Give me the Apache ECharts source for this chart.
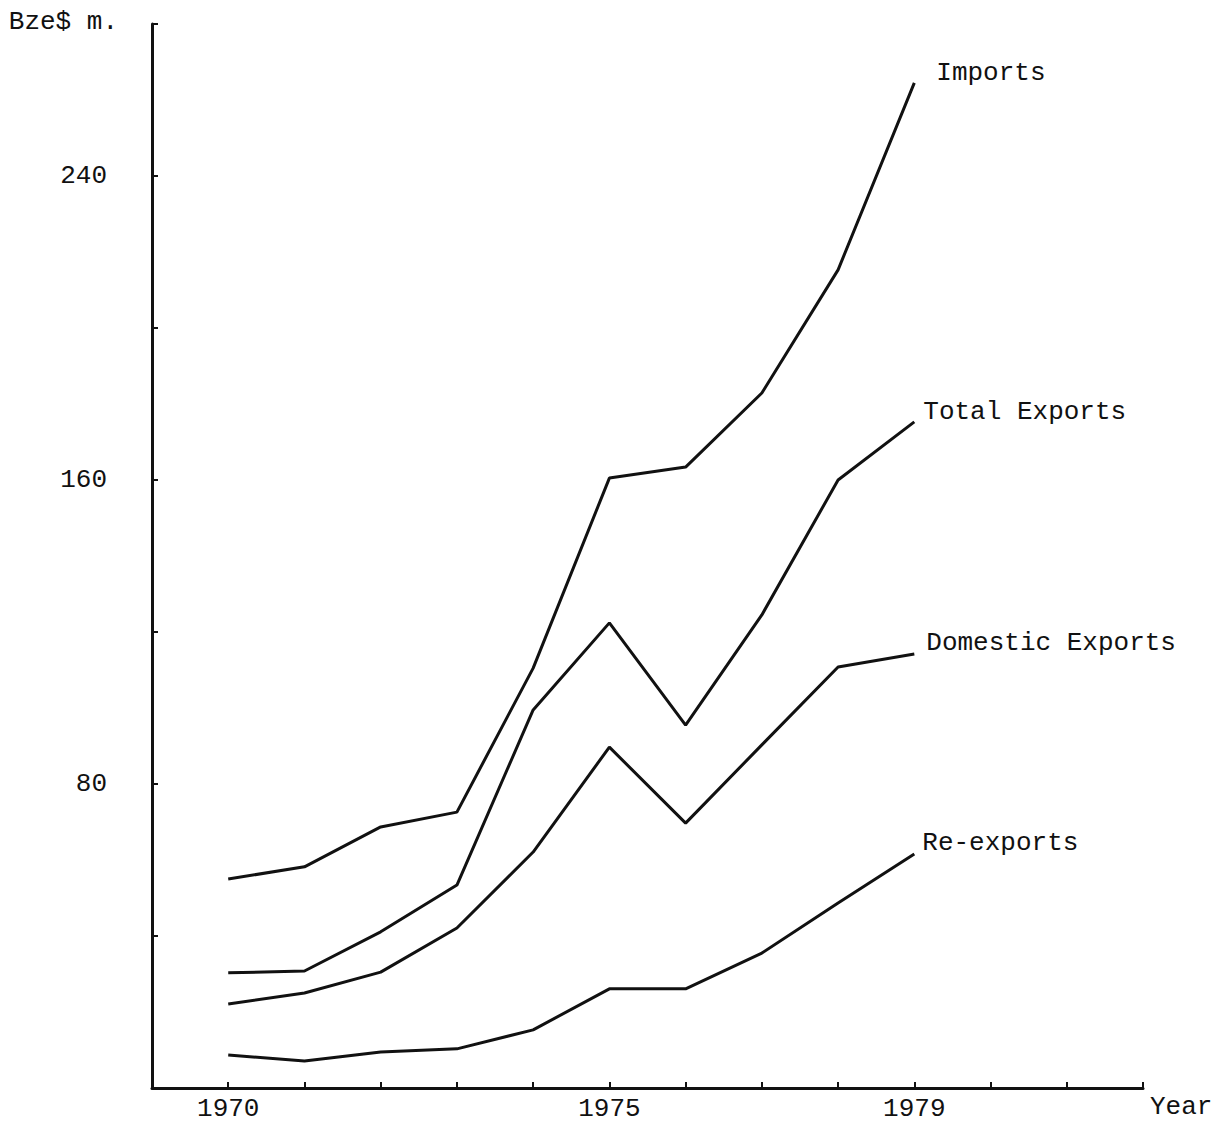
<!DOCTYPE html>
<html>
<head>
<meta charset="utf-8">
<script src="https://cdn.jsdelivr.net/npm/echarts@6/dist/echarts.min.js"></script>
<style>
  html, body { margin: 0; padding: 0; background: #ffffff; }
  #chart { width: 1226px; height: 1125px; }
</style>
</head>
<body>
<div id="chart"></div>
<script>
const years = [1970, 1971, 1972, 1973, 1974, 1975, 1976, 1977, 1978, 1979];
const imports = [55.0, 58.2, 68.7, 72.6, 110.5, 160.5, 163.4, 182.9, 215.3, 264.5];
const totalExports = [30.3, 30.8, 41.1, 53.4, 99.5, 122.4, 95.5, 124.5, 160.0, 175.3];
const domesticExports = [22.1, 25.0, 30.5, 42.1, 62.1, 89.7, 69.7, 90.3, 110.8, 114.2];
const reExports = [8.7, 7.1, 9.5, 10.3, 15.3, 26.1, 26.1, 35.5, 48.7, 61.6];
const seriesNames = ['Imports', 'Total Exports', 'Domestic Exports', 'Re-exports'];
const xTickLabels = [1970, 1975, 1979];
const yTickLabels = [80, 160, 240];

const FONT = '"Liberation Mono", "DejaVu Sans Mono", monospace';
const pairs = arr => years.map((y, i) => [y, arr[i]]);
const labelOffsets = [[14, -10], [1, -10], [4, -11], [0, -11]];
const allData = [imports, totalExports, domesticExports, reExports];

const chart = echarts.init(document.getElementById('chart'), null, { renderer: 'svg' });
chart.setOption({
  backgroundColor: '#ffffff',
  animation: false,
  grid: { left: 152, right: 83, top: 24, bottom: 37, containLabel: false },
  xAxis: {
    type: 'value',
    min: 1969,
    max: 1982,
    interval: 1,
    name: 'Year',
    nameLocation: 'end',
    nameGap: 7,
    nameTextStyle: { fontFamily: FONT, fontSize: 26, color: '#111', align: 'left', verticalAlign: 'top', padding: [6, 0, 0, 0] },
    axisLine: { show: true, onZero: false, lineStyle: { color: '#111', width: 3 } },
    axisTick: { show: true, inside: true, length: 6, lineStyle: { color: '#111', width: 2 } },
    axisLabel: {
      fontFamily: FONT, fontSize: 26, color: '#111', margin: 8,
      formatter: v => xTickLabels.includes(v) ? String(v) : ''
    },
    splitLine: { show: false }
  },
  yAxis: {
    type: 'value',
    min: 0,
    max: 280,
    interval: 40,
    name: 'Bze$ m.',
    nameLocation: 'end',
    nameGap: 2,
    nameTextStyle: { fontFamily: FONT, fontSize: 26, color: '#111', align: 'right', verticalAlign: 'middle', padding: [0, 34, 0, 0] },
    axisLine: { show: true, lineStyle: { color: '#111', width: 3 } },
    axisTick: { show: true, inside: true, length: 6, lineStyle: { color: '#111', width: 2 } },
    axisLabel: {
      fontFamily: FONT, fontSize: 26, color: '#111', margin: 45,
      formatter: v => yTickLabels.includes(v) ? String(v) : ''
    },
    splitLine: { show: false }
  },
  series: allData.map((arr, i) => ({
    name: seriesNames[i],
    type: 'line',
    data: pairs(arr),
    showSymbol: false,
    symbol: 'none',
    lineStyle: { color: '#111', width: 3 },
    endLabel: {
      show: true,
      formatter: seriesNames[i],
      distance: 8,
      offset: labelOffsets[i],
      fontFamily: FONT,
      fontSize: 26,
      color: '#111'
    }
  }))
});
</script>
</body>
</html>
